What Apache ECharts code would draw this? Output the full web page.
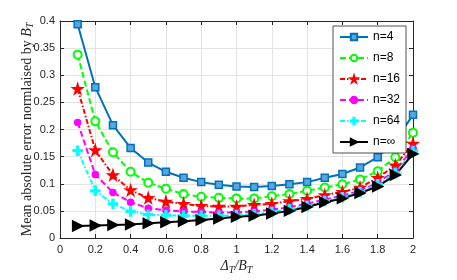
<!DOCTYPE html>
<html><head><meta charset="utf-8">
<script src="https://cdn.jsdelivr.net/npm/echarts@6/dist/echarts.min.js"></script>
<style>html,body{margin:0;padding:0;background:#fff}#c{width:457px;height:280px}</style>
</head><body><div id="c"></div>
<script>
var xValues = [0.1,0.2,0.3,0.4,0.5,0.6,0.7,0.8,0.9,1.0,1.1,1.2,1.3,1.4,1.5,1.6,1.7,1.8,1.9,2.0];
var n4   = [0.394,0.278,0.208,0.166,0.139,0.122,0.111,0.103,0.098,0.095,0.094,0.096,0.099,0.103,0.111,0.118,0.130,0.149,0.179,0.227];
var n8   = [0.338,0.215,0.158,0.122,0.102,0.091,0.081,0.076,0.074,0.073,0.073,0.077,0.081,0.087,0.093,0.099,0.108,0.123,0.149,0.194];
var n16  = [0.275,0.162,0.116,0.088,0.074,0.067,0.063,0.059,0.058,0.058,0.061,0.063,0.068,0.072,0.079,0.085,0.093,0.111,0.134,0.174];
var n32  = [0.213,0.117,0.084,0.066,0.055,0.051,0.049,0.048,0.047,0.047,0.049,0.052,0.057,0.063,0.071,0.078,0.087,0.102,0.124,0.165];
var n64  = [0.161,0.087,0.063,0.049,0.043,0.042,0.041,0.041,0.041,0.042,0.044,0.048,0.053,0.059,0.068,0.075,0.085,0.099,0.120,0.160];
var nInf = [0.022,0.023,0.024,0.025,0.027,0.029,0.031,0.033,0.036,0.039,0.041,0.045,0.050,0.057,0.066,0.073,0.083,0.095,0.116,0.155];
var seriesNames = ['n=4','n=8','n=16','n=32','n=64','n=\u221E'];
var xTicks = {min:0, max:2, interval:0.2};
var yTicks = {min:0, max:0.4, interval:0.05};

function pairs(ys){ return xValues.map(function(x,i){ return [x, ys[i]]; }); }
var plusPath = 'path://M4,0h2v4h4v2h-4v4h-2v-4h-4v-2h4z';
var starPath = 'path://M50,0 L61,35 L98,35 L68,57 L79,91 L50,70 L21,91 L32,57 L2,35 L39,35 Z';
var sans = 'Liberation Sans, Arial, sans-serif';
var serif = 'Liberation Serif, DejaVu Serif, serif';
var axisCol = '#262626';

function mk(name, data, color, symbol, size, ltype, extra){
  var s = {
    name: name, type: 'line', data: pairs(data), symbol: symbol, symbolSize: size,
    showAllSymbol: true,
    lineStyle: {color: color, width: 2, type: ltype},
    itemStyle: {color: color, borderColor: color, borderWidth: 1.5},
    emphasis: {disabled: true}, animation: false, z: 3
  };
  if (extra) for (var k in extra) s[k] = extra[k];
  return s;
}

var chart = echarts.init(document.getElementById('c'));
chart.setOption({
  animation: false,
  grid: {left: 60, right: 44, top: 21, bottom: 37, show: false},
  legend: {
    data: seriesNames, orient: 'vertical', left: 333, top: 26,
    itemWidth: 28, itemHeight: 8, itemGap: 9,
    padding: [5, 6, 5, 6],
    backgroundColor: '#fff', borderColor: axisCol, borderWidth: 0.8,
    textStyle: {fontFamily: sans, fontSize: 12, color: '#000'}
  },
  xAxis: [{
    type: 'value', min: xTicks.min, max: xTicks.max, interval: xTicks.interval,
    axisLine: {show: true, onZero: false, lineStyle: {color: axisCol, width: 1}},
    axisTick: {show: true, inside: true, length: 4, lineStyle: {color: axisCol}},
    axisLabel: {fontFamily: sans, fontSize: 11, color: axisCol, margin: 6},
    splitLine: {show: true, lineStyle: {color: '#e3e3e3', width: 1}},
    name: '{i|\u0394}{s|T}{n|/}{i|B}{s|T}', nameLocation: 'middle', nameGap: 20,
    nameMoveOverlap: false,
    nameTextStyle: {rich: {
      i: {fontFamily: serif, fontStyle: 'italic', fontSize: 14, color: axisCol},
      n: {fontFamily: serif, fontStyle: 'italic', fontSize: 14, color: axisCol},
      s: {fontFamily: serif, fontStyle: 'italic', fontSize: 10, color: axisCol, padding: [7,0,0,0]}
    }}
  },{
    type: 'value', position: 'top', min: xTicks.min, max: xTicks.max, interval: xTicks.interval,
    axisLine: {show: true, onZero: false, lineStyle: {color: axisCol, width: 1}},
    axisTick: {show: true, inside: true, length: 4, lineStyle: {color: axisCol}},
    axisLabel: {show: false}, splitLine: {show: false}
  }],
  yAxis: [{
    type: 'value', min: yTicks.min, max: yTicks.max, interval: yTicks.interval,
    axisLine: {show: true, onZero: false, lineStyle: {color: axisCol, width: 1}},
    axisTick: {show: true, inside: true, length: 4, lineStyle: {color: axisCol}},
    axisLabel: {fontFamily: sans, fontSize: 11, color: axisCol, margin: 5},
    splitLine: {show: true, lineStyle: {color: '#e3e3e3', width: 1}},
    name: '{n|Mean absolute error normlaised by }{i|B}{s|T}', nameLocation: 'middle', nameGap: 25,
    nameMoveOverlap: false,
    nameTextStyle: {rich: {
      n: {fontFamily: serif, fontSize: 14, color: axisCol},
      i: {fontFamily: serif, fontStyle: 'italic', fontSize: 14, color: axisCol},
      s: {fontFamily: serif, fontStyle: 'italic', fontSize: 10, color: axisCol, padding: [6,0,0,0]}
    }}
  },{
    type: 'value', position: 'right', min: yTicks.min, max: yTicks.max, interval: yTicks.interval,
    axisLine: {show: true, onZero: false, lineStyle: {color: axisCol, width: 1}},
    axisTick: {show: true, inside: true, length: 4, lineStyle: {color: axisCol}},
    axisLabel: {show: false}, splitLine: {show: false}
  }],
  series: [
    mk(seriesNames[0], n4, '#0072BD', 'rect', 7, 'solid', {itemStyle: {color: '#5aa6dc', borderColor: '#0072BD', borderWidth: 1.5}}),
    mk(seriesNames[1], n8, '#00FF00', 'emptyCircle', 8, [6,3], {itemStyle: {color: '#00FF00', borderColor: '#00FF00', borderWidth: 2}}),
    mk(seriesNames[2], n16, '#FF0000', starPath, 10, [5,2,1.5,2]),
    mk(seriesNames[3], n32, '#FF00FF', 'circle', 6, [6,3]),
    mk(seriesNames[4], n64, '#00FFFF', plusPath, 9, [5,2,1.5,2]),
    mk(seriesNames[5], nInf, '#000000', 'triangle', 10, 'solid', {symbolRotate: -90})
  ]
});
</script></body></html>
